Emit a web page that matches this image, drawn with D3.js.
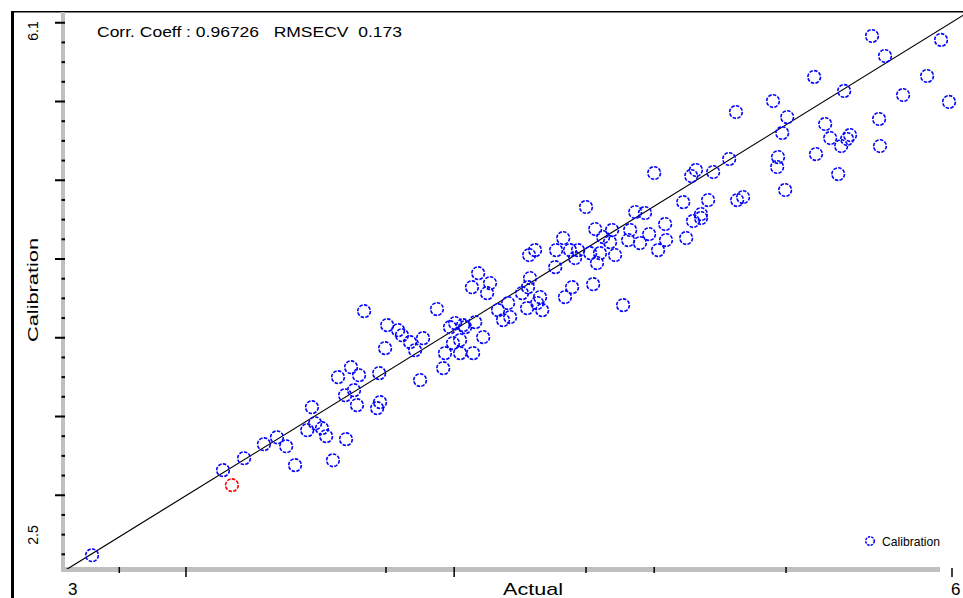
<!DOCTYPE html>
<html>
<head>
<meta charset="utf-8">
<script src="https://cdn.jsdelivr.net/npm/d3@7/dist/d3.min.js"></script>
<style>
body { margin: 0; background: #fff; }
text { font-family: "Liberation Sans", Arial, sans-serif; fill: #000; white-space: pre; }
</style>
</head>
<body>
<svg width="963" height="598"></svg>
<script>
// calibration samples: actual vs predicted
var actual = [3.098, 3.540, 3.611, 3.678, 3.722, 3.753, 3.783, 3.824, 3.840, 3.851, 3.874, 3.888, 3.911, 3.955, 3.928, 3.972, 3.952, 3.992, 3.999, 3.982,
    4.067, 4.070, 4.060, 4.016, 4.087, 4.094, 4.131, 4.144, 4.171, 4.215, 4.188, 4.205, 4.262, 4.283, 4.289, 4.306, 4.316, 4.340, 4.340, 4.357,
    4.384, 4.391, 4.418, 4.401, 4.380, 4.441, 4.431, 4.468, 4.485, 4.509, 4.502, 4.549, 4.566, 4.600, 4.617, 4.576, 4.569, 4.610, 4.573, 4.593,
    4.664, 4.711, 4.728, 4.661, 4.694, 4.718, 4.688, 4.738, 4.779, 4.812, 4.802, 4.863, 4.789, 4.890, 4.765, 4.796, 4.823, 4.846, 4.853, 4.907,
    4.914, 4.947, 4.978, 5.008, 5.035, 5.032, 4.931, 4.964, 5.103, 5.126, 5.153, 4.995, 5.093, 5.153, 5.177, 5.120, 5.136, 5.194, 5.248, 5.275,
    5.295, 5.271, 5.396, 5.444, 5.427, 5.413, 5.410, 5.437, 5.541, 5.572, 5.589, 5.616, 5.626, 5.646, 5.656, 5.757, 5.754, 5.535, 5.636, 5.730,
    5.774, 5.835, 5.916, 5.963, 5.990, 4.323, 4.350];
var predicted = [2.619, 3.159, 3.235, 3.324, 3.368, 3.311, 3.191, 3.413, 3.559, 3.457, 3.426, 3.375, 3.222, 3.356, 3.750, 3.813, 3.635, 3.572, 3.762, 3.667,
    3.775, 3.591, 3.553, 4.169, 3.934, 4.080, 4.048, 4.016, 3.972, 3.997, 3.921, 3.731, 4.182, 3.807, 3.902, 4.067, 3.966, 3.985, 3.902, 4.067,
    3.902, 4.099, 4.004, 4.410, 4.321, 4.347, 4.283, 4.175, 4.112, 4.131, 4.220, 4.283, 4.188, 4.220, 4.175, 4.379, 4.321, 4.258, 4.525, 4.556,
    4.556, 4.556, 4.506, 4.448, 4.258, 4.321, 4.633, 4.556, 4.537, 4.537, 4.474, 4.525, 4.340, 4.207, 4.830, 4.690, 4.639, 4.607, 4.684, 4.620,
    4.684, 4.601, 4.658, 4.556, 4.620, 4.722, 4.798, 4.792, 4.633, 4.741, 4.760, 5.046, 4.861, 4.785, 4.874, 5.027, 5.065, 5.052, 5.135, 4.874,
    4.893, 5.433, 5.503, 5.401, 5.300, 5.147, 5.084, 4.938, 5.166, 5.357, 5.268, 5.039, 5.217, 5.262, 5.287, 5.217, 5.389, 5.656, 5.567, 5.916,
    5.789, 5.541, 5.662, 5.891, 5.497, 4.093, 4.080];

// the one flagged sample (red)
var outlierActual = [3.570];
var outlierPredicted = [3.064];

// regression line end points
var fitActual = [3.0, 6.04];
var fitPredicted = [2.515, 6.05];

var yMajorTicks = [3.0, 3.5, 4.0, 4.5, 5.0, 5.5, 6.0];
var xTicks = [3.19, 3.415, 4.09, 4.32, 4.765, 4.995, 5.44];
var xLongTicks = [3.415, 4.32];
var xLabels = ["3", "6"];
var yLabels = ["2.5", "6.1"];
var statsText = "Corr. Coeff : 0.96726   RMSECV  0.173";

var svg = d3.select("svg");

var x = d3.scaleLinear().domain([3, 6]).range([63, 952]);
var y = d3.scaleLinear().domain([2.5, 6.1]).range([574, 7]);

var yMinorTicks = d3.range(2.625, 6.1, 0.125).filter(function (v) {
    return Math.abs(v * 2 - Math.round(v * 2)) > 0.01;
});

svg.append("defs").append("clipPath")
    .attr("id", "plotclip")
    .append("rect")
    .attr("x", 63).attr("y", 11).attr("width", 900).attr("height", 558);

// frame
svg.append("rect").attr("x", 11).attr("y", 11).attr("width", 3).attr("height", 587).attr("fill", "#000");
svg.append("rect").attr("x", 11).attr("y", 11).attr("width", 952).attr("height", 1.5).attr("fill", "#000");

// gray axis bands
svg.append("rect").attr("x", 61).attr("y", 12).attr("width", 4).attr("height", 560).attr("fill", "#c0c0c0");
svg.append("rect").attr("x", 61).attr("y", 567).attr("width", 879).attr("height", 5).attr("fill", "#c0c0c0");

// y ticks
svg.selectAll(".ymajor")
    .data(yMajorTicks)
    .enter()
    .append("line")
    .attr("class", "ymajor")
    .attr("x1", 55).attr("x2", 65)
    .attr("y1", function (d) {return y(d);})
    .attr("y2", function (d) {return y(d);})
    .attr("stroke", "#000")
    .attr("stroke-width", 2);

svg.selectAll(".yminor")
    .data(yMinorTicks)
    .enter()
    .append("line")
    .attr("class", "yminor")
    .attr("x1", 61.5).attr("x2", 65)
    .attr("y1", function (d) {return y(d);})
    .attr("y2", function (d) {return y(d);})
    .attr("stroke", "#000")
    .attr("stroke-width", 2);

// x ticks
svg.selectAll(".xtick")
    .data(xTicks)
    .enter()
    .append("line")
    .attr("class", "xtick")
    .attr("x1", function (d) {return x(d);})
    .attr("x2", function (d) {return x(d);})
    .attr("y1", 567)
    .attr("y2", function (d) {return xLongTicks.indexOf(d) >= 0 ? 577 : 573;})
    .attr("stroke", "#000")
    .attr("stroke-width", 1.5);

svg.append("line")
    .attr("x1", x(6)).attr("x2", x(6))
    .attr("y1", 568).attr("y2", 577)
    .attr("stroke", "#000")
    .attr("stroke-width", 1.5);

var plot = svg.append("g").attr("clip-path", "url(#plotclip)");

// regression line
plot.append("line")
    .attr("x1", x(fitActual[0])).attr("y1", y(fitPredicted[0]))
    .attr("x2", x(fitActual[1])).attr("y2", y(fitPredicted[1]))
    .attr("stroke", "#000")
    .attr("stroke-width", 1.2);

var points = actual.map(function (d, i) {return {a: d, p: predicted[i]};});

plot.selectAll(".pt")
    .data(points)
    .enter()
    .append("circle")
    .attr("class", "pt")
    .attr("cx", function (d) {return x(d.a);})
    .attr("cy", function (d) {return y(d.p);})
    .attr("r", 6.3)
    .attr("fill", "none")
    .attr("stroke", "#0000ff")
    .attr("stroke-width", 1.6)
    .attr("stroke-dasharray", "3.5 1.3");

plot.selectAll(".outlier")
    .data(outlierActual)
    .enter()
    .append("circle")
    .attr("class", "outlier")
    .attr("cx", function (d) {return x(d);})
    .attr("cy", function (d, i) {return y(outlierPredicted[i]);})
    .attr("r", 6.3)
    .attr("fill", "none")
    .attr("stroke", "#ff0000")
    .attr("stroke-width", 1.6)
    .attr("stroke-dasharray", "3.5 1.3");

// texts
svg.append("text")
    .attr("x", 97).attr("y", 37)
    .attr("xml:space", "preserve")
    .attr("textLength", 305)
    .attr("lengthAdjust", "spacingAndGlyphs")
    .style("font-size", "15px")
    .text(statsText);

svg.append("text")
    .attr("transform", "translate(38,31) rotate(-90)")
    .attr("text-anchor", "middle")
    .style("font-size", "14px")
    .text(yLabels[1]);

svg.append("text")
    .attr("transform", "translate(38,535) rotate(-90)")
    .attr("text-anchor", "middle")
    .style("font-size", "14px")
    .text(yLabels[0]);

svg.append("text")
    .attr("transform", "translate(38,290) rotate(-90)")
    .attr("text-anchor", "middle")
    .attr("textLength", 104)
    .attr("lengthAdjust", "spacingAndGlyphs")
    .style("font-size", "14px")
    .text("Calibration");

svg.append("text")
    .attr("x", 68).attr("y", 595)
    .style("font-size", "17px")
    .text(xLabels[0]);

svg.append("text")
    .attr("x", 951).attr("y", 595)
    .style("font-size", "17px")
    .text(xLabels[1]);

svg.append("text")
    .attr("x", 503).attr("y", 595)
    .attr("textLength", 60)
    .attr("lengthAdjust", "spacingAndGlyphs")
    .style("font-size", "17px")
    .text("Actual");

// legend
svg.append("circle")
    .attr("cx", 870).attr("cy", 541)
    .attr("r", 4.3)
    .attr("fill", "none")
    .attr("stroke", "#0000ff")
    .attr("stroke-width", 1.5)
    .attr("stroke-dasharray", "2.5 1");

svg.append("text")
    .attr("x", 882).attr("y", 546)
    .attr("textLength", 58)
    .attr("lengthAdjust", "spacingAndGlyphs")
    .style("font-size", "13px")
    .text("Calibration");
</script>
</body>
</html>
